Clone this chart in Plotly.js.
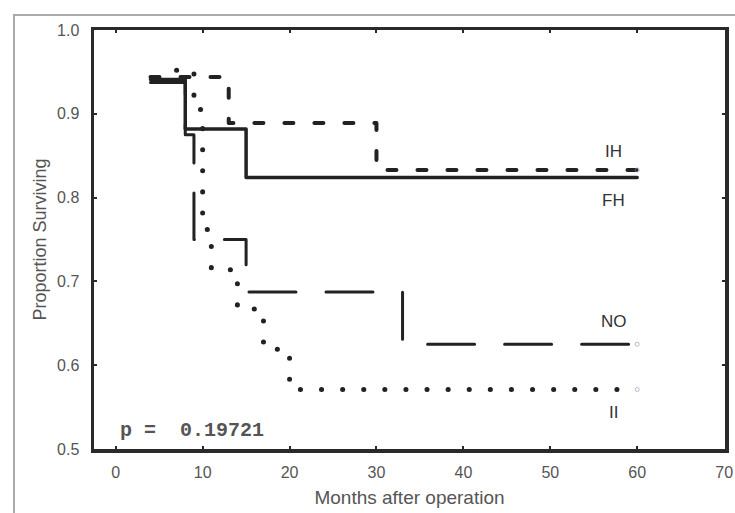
<!DOCTYPE html>
<html>
<head>
<meta charset="utf-8">
<script src="https://cdn.plot.ly/plotly-3.0.1.min.js"></script>
<style>
  html, body { margin: 0; padding: 0; background: #fff; }
  #chart { width: 735px; height: 513px; }
  #chart path.js-line { stroke-linecap: round !important; stroke-linejoin: round !important; }
</style>
</head>
<body>
<div id="chart"></div>
<script>
// Kaplan-Meier survival curves (months after operation vs proportion surviving)
const fhMonths = [4, 8, 15, 60];
const fhSurv   = [0.941, 0.882, 0.824, 0.824];

const ihMonths = [4, 13, 30, 60];
const ihSurv   = [0.944, 0.889, 0.833, 0.833];

const noMonths = [4, 8, 9, 15, 33, 60];
const noSurv   = [0.9375, 0.875, 0.75, 0.6875, 0.625, 0.625];

const iiMonths = [7, 9, 10, 11, 14, 17, 20, 60];
const iiSurv   = [0.952, 0.905, 0.762, 0.714, 0.667, 0.619, 0.571, 0.571];

const censorMonths = [60, 60, 60];
const censorSurv   = [0.833, 0.625, 0.571];

const groupLabels = ["IH", "FH", "NO", "II"];
const labelMonths = [57.3, 57.3, 57.3, 57.3];
const labelSurv   = [0.855, 0.797, 0.652, 0.543];

const pText = "p =  0.19721";
const xTicks = [0, 10, 20, 30, 40, 50, 60, 70];
const yTicks = [0.5, 0.6, 0.7, 0.8, 0.9, 1.0];

const ink = "#222";

const traces = [
  { x: noMonths, y: noSurv, mode: "lines", line: { shape: "hv", color: ink, width: 3, dash: "47px,30px" }, name: "NO" },
  { x: ihMonths, y: ihSurv, mode: "lines", line: { shape: "hv", color: ink, width: 4, dash: "9px,21px" }, name: "IH" },
  { x: iiMonths, y: iiSurv, mode: "lines", line: { shape: "hv", color: ink, width: 5, dash: "0.1px,21px" }, name: "II" },
  { x: fhMonths, y: fhSurv, mode: "lines", line: { shape: "hv", color: ink, width: 3.5 }, name: "FH" },
  { x: censorMonths, y: censorSurv, mode: "markers", marker: { symbol: "circle-open", size: 4, color: "rgba(140,140,190,0.6)", line: { width: 1 } }, name: "censored" }
];

const annotations = groupLabels.map((t, i) => ({
  x: labelMonths[i], y: labelSurv[i], xref: "x", yref: "y", text: t, showarrow: false,
  font: { family: "Liberation Sans, Arial, sans-serif", size: 17, color: "#333" },
  xanchor: "center", yanchor: "middle"
}));
annotations.push({
  x: 0.25, y: 0.522, xref: "x", yref: "y", text: pText, showarrow: false,
  font: { family: "Liberation Mono, Courier New, monospace", size: 20, color: "#555", weight: "bold" },
  xanchor: "left", yanchor: "middle"
});

const layout = {
  width: 735, height: 513,
  margin: { l: 94, r: 10, t: 30, b: 64 },
  paper_bgcolor: "#fff", plot_bgcolor: "#fff",
  showlegend: false,
  font: { family: "Liberation Sans, Arial, sans-serif", color: "#555" },
  xaxis: {
    range: [-2.5, 70.1], tickvals: xTicks, ticktext: xTicks.map(String),
    showgrid: false, zeroline: false,
    showline: true, linecolor: "#2a2a2a", linewidth: 3.5, mirror: "ticks",
    ticks: "inside", ticklen: 3, tickwidth: 2, tickcolor: "#2a2a2a",
    tickfont: { size: 16, color: "#555" },
    ticklabelstandoff: 6,
    title: { text: "Months after operation", font: { size: 19, color: "#555" }, standoff: 12 }
  },
  yaxis: {
    range: [0.5, 1.0], tickvals: yTicks, ticktext: yTicks.map(v => v.toFixed(1)),
    showgrid: false, zeroline: false,
    showline: true, linecolor: "#2a2a2a", linewidth: 3.5, mirror: "ticks",
    ticks: "inside", ticklen: 3, tickwidth: 2, tickcolor: "#2a2a2a",
    tickfont: { size: 16, color: "#555" },
    ticklabelstandoff: 8,
    title: { text: "Proportion Surviving", font: { size: 18, color: "#555" }, standoff: 6 }
  },
  shapes: [
    { type: "rect", xref: "paper", yref: "paper", x0: -0.1268, x1: 1.03, y0: -0.18, y1: 1.0358,
      line: { color: "#aaa", width: 2 }, fillcolor: "rgba(0,0,0,0)", layer: "below" }
  ],
  annotations: annotations
};

Plotly.newPlot("chart", traces, layout, { displayModeBar: false, staticPlot: true });
</script>
</body>
</html>
